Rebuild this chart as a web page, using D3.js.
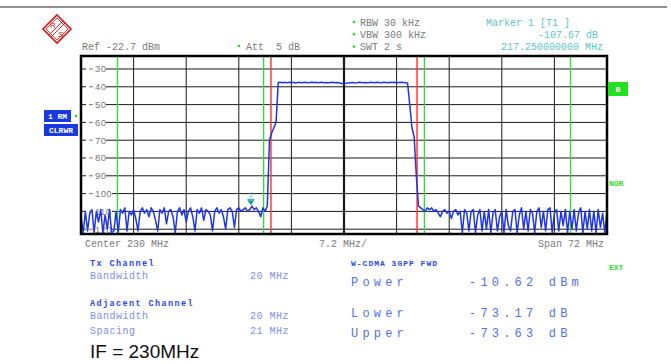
<!DOCTYPE html>
<html>
<head>
<meta charset="utf-8">
<script src="https://cdn.jsdelivr.net/npm/d3@7"></script>
<style>
  body { margin: 0; background: #fff; }
  text { font-family: "Liberation Mono", "DejaVu Sans Mono", monospace; }
</style>
</head>
<body>
<div class="vis-holder"></div>
<script>
// analyzer settings
const centerMHz = 230;
const spanMHz = 72;
const refLevel = -22.7;
const yTicks = [-30, -40, -50, -60, -70, -80, -90, -100, -110, -120];

// channel limits (MHz): tx channel red, adjacent channels green
const txLines = [220, 240];
const adjLines = [199, 219, 241, 261];

const marker = {freq: 217.25, level: -107.67};

// trace, 241 sweep points from 194 to 266 MHz
const traceDbm = [
  // lower adjacent / noise floor
  -113,-122,-110,-121,-111,-109,-122,-110,-116,-109,
  -122,-112,-120,-109,-122,-121,-110,-122,-109,-111,
  -108,-121,-110,-112,-109,-114,-121,-110,-108,-111,
  -109,-113,-108,-110,-115,-121,-109,-111,-108,-117,
  -110,-109,-113,-122,-110,-108,-112,-109,-116,-110,
  -108,-113,-121,-109,-111,-108,-115,-109,-110,-112,
  -121,-110,-108,-111,-109,-113,-120,-109,-108,-110,
  -119,-109,-108,-110,-109,-108,-110,-109,-107,-109,
  -108,-110,-113,-108,-110,-107,
  // rising edge
  -70,-66,-63,-60,
  // channel top
  -37.6,-37.4,-37.7,-37.5,-37.8,-37.4,-37.6,-37.5,-37.9,-37.5,
  -37.6,-37.7,-37.4,-37.6,-37.8,-37.5,-37.6,-37.4,-37.7,-37.6,
  -37.5,-37.8,-37.6,-37.7,-37.6,-37.5,-37.7,-37.6,-37.9,-38.1,
  -38.3,-38.0,-37.8,-37.7,-37.6,-37.8,-37.7,-37.5,-37.6,-37.7,
  -37.6,-37.8,-37.5,-37.6,-37.7,-37.4,-37.6,-37.8,-37.5,-37.6,
  -37.7,-37.5,-37.6,-37.4,-37.7,-37.6,-37.5,-37.6,-37.7,-37.8,
  // falling edge
  -50,-63,-68,-90,-107,
  // upper adjacent / noise floor
  -108,-109,-110,-108,-109,-108,-110,-109,-111,-113,
  -110,-109,-111,-110,-114,-110,-109,-112,-110,-122,
  -109,-111,-121,-110,-109,-122,-112,-109,-121,-110,
  -120,-109,-122,-111,-109,-121,-113,-110,-122,-109,
  -118,-121,-110,-109,-122,-112,-108,-120,-110,-121,
  -109,-111,-122,-110,-108,-119,-110,-121,-109,-108,
  -122,-111,-109,-121,-110,-118,-109,-122,-110,-120,
  -109,-121,-111,-108,-122,-110,-120,-109,-121,-110,
  -122,-109,-119,-111,-122,-110
];

const headerLeft = ['Ref -22.7 dBm'];
const headerMid = ['Att  5 dB'];
const headerSettings = ['RBW 30 kHz', 'VBW 300 kHz', 'SWT 2 s'];
const markerInfo = ['Marker 1 [T1 ]', '-107.67 dB', '217.250000000 MHz'];
const axisLabels = ['Center 230 MHz', '7.2 MHz/', 'Span 72 MHz'];

const txRows = [['Bandwidth', '20 MHz']];
const adjRows = [['Bandwidth', '20 MHz'], ['Spacing', '21 MHz']];
const resultRows = [['Power', '-10.62 dBm'], ['Lower', '-73.17 dB'], ['Upper', '-73.63 dB']];

const width = 671, height = 364;
const plot = {left: 81, right: 607, top: 56, bottom: 234};

const svg = d3.select('.vis-holder')
  .append('svg')
    .attr('width', width)
    .attr('height', height)
    .style('display', 'block');

const x = d3.scaleLinear()
  .domain([centerMHz - spanMHz / 2, centerMHz + spanMHz / 2])
  .range([plot.left, plot.right]);

const y = d3.scaleLinear()
  .domain([refLevel - 100, refLevel])
  .range([plot.bottom, plot.top]);

const sweep = d3.scaleLinear()
  .domain([0, traceDbm.length - 1])
  .range(x.domain());

// top rule
svg.append('line')
  .attr('x1', 0).attr('x2', 667)
  .attr('y1', 7).attr('y2', 7)
  .attr('stroke', '#222').attr('stroke-width', 1);

// R&S logo
const logo = svg.append('g').attr('transform', 'translate(57,29)');
logo.append('path')
  .attr('d', 'M0,-14 L14,0 L0,14 L-14,0 Z')
  .attr('fill', 'none').attr('stroke', '#d11').attr('stroke-width', 1.6);
logo.append('path')
  .attr('d', 'M0,-11 L11,0 L0,11 L-11,0 Z')
  .attr('fill', 'none').attr('stroke', '#d11').attr('stroke-width', 0.8);
logo.append('line')
  .attr('x1', -8).attr('y1', 6).attr('x2', 6).attr('y2', -8)
  .attr('stroke', '#d11').attr('stroke-width', 0.9);
logo.append('line')
  .attr('x1', -6).attr('y1', 8).attr('x2', 8).attr('y2', -6)
  .attr('stroke', '#d11').attr('stroke-width', 0.9);
logo.append('text').attr('x', -4).attr('y', -1).attr('text-anchor', 'middle')
  .style('font-family', 'Liberation Sans').style('font-size', '8px').attr('fill', '#d11').text('R');
logo.append('text').attr('x', 4).attr('y', 8).attr('text-anchor', 'middle')
  .style('font-family', 'Liberation Sans').style('font-size', '8px').attr('fill', '#d11').text('S');

// header texts
const gray = '#7a7a7a';
svg.append('text').attr('x', 82).attr('y', 50)
  .style('font-size', '10px').attr('fill', gray).text(headerLeft[0]);
svg.append('circle').attr('cx', 239).attr('cy', 46).attr('r', 1.3).attr('fill', '#2d2');
svg.append('text').attr('x', 246).attr('y', 50)
  .style('font-size', '10px').attr('fill', gray).attr('xml:space', 'preserve').text(headerMid[0]);

headerSettings.forEach((t, i) => {
  svg.append('circle').attr('cx', 354).attr('cy', 22 + i * 12.3).attr('r', 1.3).attr('fill', '#2d2');
  svg.append('text').attr('x', 360).attr('y', 25.5 + i * 12.3)
    .style('font-size', '10px').attr('fill', gray).text(t);
});

const teal = '#5cc6c6';
svg.append('text').attr('x', 486).attr('y', 25.5)
  .style('font-size', '10px').attr('fill', teal).text(markerInfo[0]);
svg.append('text').attr('x', 598).attr('y', 37.8).attr('text-anchor', 'end')
  .style('font-size', '10px').attr('fill', teal).text(markerInfo[1]);
svg.append('text').attr('x', 603).attr('y', 50.2).attr('text-anchor', 'end')
  .style('font-size', '10px').attr('fill', teal).text(markerInfo[2]);

// grid
const chart = svg.append('g');
const xGrid = d3.range(1, 10).map(k => x.domain()[0] + k * spanMHz / 10);

chart.selectAll('.hgrid')
  .data(yTicks)
  .enter().append('line')
    .attr('class', 'hgrid')
    .attr('x1', plot.left).attr('x2', plot.right)
    .attr('y1', d => y(d)).attr('y2', d => y(d))
    .attr('stroke', '#1a1a1a').attr('stroke-width', 1);

chart.selectAll('.vgrid')
  .data(xGrid)
  .enter().append('line')
    .attr('class', 'vgrid')
    .attr('x1', d => x(d)).attr('x2', d => x(d))
    .attr('y1', plot.top).attr('y2', plot.bottom)
    .attr('stroke', '#1a1a1a')
    .attr('stroke-width', d => Math.abs(d - centerMHz) < 0.01 ? 2.2 : 1);

// y tick labels sit inside the plot on a white patch
const tickG = chart.selectAll('.ytick')
  .data(yTicks)
  .enter().append('g')
    .attr('class', 'ytick')
    .attr('transform', d => 'translate(0,' + y(d) + ')');
tickG.append('rect')
  .attr('x', 86).attr('y', -5)
  .attr('width', d => d <= -100 ? 26 : 20).attr('height', 10)
  .attr('fill', '#fff');
tickG.append('line')
  .attr('x1', 89).attr('x2', 93).attr('y1', 0).attr('y2', 0)
  .attr('stroke', gray).attr('stroke-width', 1);
tickG.append('text')
  .attr('x', 95).attr('y', 3.5)
  .style('font-family', 'Liberation Sans').style('font-size', '9.5px')
  .style('letter-spacing', '0.4px')
  .attr('fill', gray)
  .text(d => Math.abs(d));

// channel lines
chart.selectAll('.adj')
  .data(adjLines)
  .enter().append('line')
    .attr('x1', d => x(d)).attr('x2', d => x(d))
    .attr('y1', plot.top).attr('y2', plot.bottom)
    .attr('stroke', '#2ee02e').attr('stroke-width', 1.3);
chart.selectAll('.tx')
  .data(txLines)
  .enter().append('line')
    .attr('x1', d => x(d)).attr('x2', d => x(d))
    .attr('y1', plot.top).attr('y2', plot.bottom)
    .attr('stroke', '#ff3b30').attr('stroke-width', 1.5);

// trace
const line = d3.line()
  .x((d, i) => x(sweep(i)))
  .y(d => y(d));

chart.append('path')
  .attr('d', line(traceDbm))
  .attr('fill', 'none')
  .attr('stroke', '#1f36e6')
  .attr('stroke-width', 1.5)
  .attr('stroke-linejoin', 'round');

// marker
const mx = x(marker.freq), my = y(marker.level);
chart.append('path')
  .attr('d', `M${mx - 3.5},${my - 7} L${mx + 3.5},${my - 7} L${mx},${my - 2} Z`)
  .attr('fill', '#1a9a9a');
chart.append('line')
  .attr('x1', mx - 3.5).attr('x2', mx + 3.5).attr('y1', my - 8).attr('y2', my - 8)
  .attr('stroke', '#1a9a9a').attr('stroke-width', 1);
chart.append('text')
  .attr('x', mx).attr('y', my - 10).attr('text-anchor', 'middle')
  .style('font-size', '7px').attr('fill', teal).text('1');

// frame
chart.append('rect')
  .attr('x', plot.left).attr('y', plot.top)
  .attr('width', plot.right - plot.left).attr('height', plot.bottom - plot.top)
  .attr('fill', 'none').attr('stroke', '#000').attr('stroke-width', 2.5);

// axis labels below the plot
svg.append('text').attr('x', 85).attr('y', 246.5)
  .style('font-size', '10px').attr('fill', gray).text(axisLabels[0]);
svg.append('text').attr('x', 343).attr('y', 246.5).attr('text-anchor', 'middle')
  .style('font-size', '10px').attr('fill', gray).text(axisLabels[1]);
svg.append('text').attr('x', 604).attr('y', 246.5).attr('text-anchor', 'end')
  .style('font-size', '10px').attr('fill', gray).text(axisLabels[2]);

// side badges
function badge(bx, by, w, h, fill, label) {
  svg.append('rect').attr('x', bx).attr('y', by).attr('width', w).attr('height', h).attr('fill', fill);
  svg.append('text').attr('x', bx + w / 2).attr('y', by + h / 2 + 3)
    .attr('text-anchor', 'middle')
    .style('font-size', '8px').style('font-weight', 'bold')
    .attr('fill', '#fff').attr('xml:space', 'preserve').text(label);
}
badge(44, 110, 27, 12, '#1838e0', '1 RM');
badge(44, 124, 34, 12, '#1838e0', 'CLRWR');
svg.append('circle').attr('cx', 76).attr('cy', 116).attr('r', 1.3).attr('fill', '#2d2');
badge(608, 82, 20, 14, '#22e022', 'B');

const green = '#33dd33';
svg.append('text').attr('x', 609).attr('y', 186)
  .style('font-size', '8px').style('font-weight', 'bold').attr('fill', green).text('NOR');
svg.append('text').attr('x', 609).attr('y', 270)
  .style('font-size', '8px').style('font-weight', 'bold').attr('fill', green).text('EXT');

// channel table
const blueBold = '#2a46f0';
const blueLight = '#7d90f2';
svg.append('text').attr('x', 90).attr('y', 266)
  .style('font-size', '8.5px').style('font-weight', 'bold').style('letter-spacing', '1.4px')
  .attr('fill', blueBold).text('Tx Channel');
txRows.forEach((r, i) => {
  svg.append('text').attr('x', 90).attr('y', 279 + i * 15)
    .style('font-size', '10px').style('letter-spacing', '0.5px').attr('fill', blueLight).text(r[0]);
  svg.append('text').attr('x', 250).attr('y', 279 + i * 15)
    .style('font-size', '10px').style('letter-spacing', '0.5px').attr('fill', blueLight).text(r[1]);
});
svg.append('text').attr('x', 90).attr('y', 306)
  .style('font-size', '8.5px').style('font-weight', 'bold').style('letter-spacing', '1.4px')
  .attr('fill', blueBold).text('Adjacent Channel');
adjRows.forEach((r, i) => {
  svg.append('text').attr('x', 90).attr('y', 319 + i * 15)
    .style('font-size', '10px').style('letter-spacing', '0.5px').attr('fill', blueLight).text(r[0]);
  svg.append('text').attr('x', 250).attr('y', 319 + i * 15)
    .style('font-size', '10px').style('letter-spacing', '0.5px').attr('fill', blueLight).text(r[1]);
});

// measurement results
svg.append('text').attr('x', 351).attr('y', 266)
  .style('font-size', '8px').style('font-weight', 'bold').style('letter-spacing', '1px')
  .attr('fill', blueBold).text('W-CDMA 3GPP FWD');
const resultY = [286, 316.5, 336.5];
resultRows.forEach((r, i) => {
  svg.append('text').attr('x', 351).attr('y', resultY[i])
    .style('font-size', '12px').style('letter-spacing', '4.2px').attr('fill', '#5470ee').text(r[0]);
  svg.append('text').attr('x', 469).attr('y', resultY[i])
    .style('font-size', '12px').style('letter-spacing', '4.2px').attr('fill', '#5470ee').text(r[1]);
});

// caption
svg.append('text').attr('x', 90).attr('y', 358)
  .style('font-family', '"Liberation Sans", Arial, sans-serif').style('font-size', '19px')
  .attr('fill', '#111').text('IF = 230MHz');
</script>
</body>
</html>
